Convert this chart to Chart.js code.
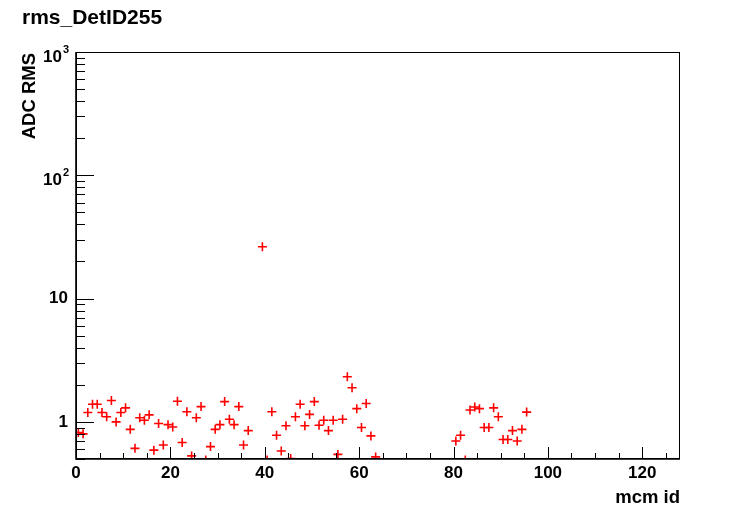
<!DOCTYPE html>
<html>
<head>
<meta charset="utf-8">
<script src="https://cdn.jsdelivr.net/npm/chart.js@4.4.1/dist/chart.umd.min.js"></script>
<style>
  html, body { margin: 0; padding: 0; background: #fff; }
  #wrap { width: 756px; height: 511px; position: relative; }
</style>
</head>
<body>
<div id="wrap"><canvas id="c" width="756" height="511"></canvas></div>
<script>
// mcm ids (bins) and the rms
const mcmIds = [
  0, 1, 2, 3, 4, 5, 6, 7, 8, 9, 10, 11, 12, 13, 14, 15, 16, 17, 18, 19,
  20, 21, 22, 23, 24, 25, 26, 27, 28, 29, 30, 31, 32, 33, 34, 35, 36,
  39, 40, 41, 42, 43, 44, 45, 46, 47, 48, 49, 50, 51, 52, 53, 54, 55,
  56, 57, 58, 59, 60, 61, 62, 63,
  80, 81, 82, 83, 84, 85, 86, 87, 88, 89, 90, 91, 92, 93, 94, 95
];
const rmsValues = [
  0.82, 0.80, 1.19, 1.39, 1.39, 1.19, 1.10, 1.49, 1.00, 1.19, 1.30, 0.87, 0.61, 1.08, 1.03, 1.14, 0.59, 0.97, 0.65, 0.95,
  0.91, 1.47, 0.68, 1.21, 0.53, 1.08, 1.33, 0.49, 0.63, 0.87, 0.95, 1.46, 1.05, 0.95, 1.33, 0.65, 0.85,
  26.3, 0.49, 1.21, 0.78, 0.58, 0.93, 0.505, 1.10, 1.39, 0.93, 1.15, 1.46, 0.94, 1.03, 0.85, 1.03, 0.545,
  1.05, 2.32, 1.89, 1.28, 0.90, 1.41, 0.77, 0.52,
  0.70, 0.78, 0.49, 1.25, 1.32, 1.28, 0.90, 0.90, 1.30, 1.10, 0.72, 0.72, 0.85, 0.70, 0.87, 1.20
];

const xTickValues = [0, 20, 40, 60, 80, 100, 120];
const yTickValues = [1, 10, 100, 1000];
const yTickLabels = ['1', '10', '10^2', '10^3'];

const titleText = 'rms_DetID255';
const xTitle = 'mcm id';
const yTitle = 'ADC RMS';

const FONT = '"Liberation Sans", Arial, Helvetica, sans-serif';

// ROOT-like frame, inside ticks and labels
const rootAxes = {
  id: 'rootAxes',
  afterDatasetsDraw(chart) {
    const ctx = chart.ctx;
    const a = chart.chartArea;
    const xs = chart.scales.x, ys = chart.scales.y;
    ctx.save();
    ctx.strokeStyle = '#000';
    ctx.fillStyle = '#000';

    // frame
    ctx.lineWidth = 1;
    ctx.strokeRect(a.left + 0.5, a.top + 0.5, a.right - a.left - 1, a.bottom - a.top - 1);
    ctx.lineWidth = 1.6;
    ctx.beginPath();
    ctx.moveTo(a.left, a.top); ctx.lineTo(a.left, a.bottom); ctx.lineTo(a.right, a.bottom);
    ctx.stroke();

    // x ticks: major every 20, minor every 5
    ctx.lineWidth = 1;
    ctx.beginPath();
    for (let v = 0; v <= xs.max; v += 5) {
      const px = Math.round(xs.getPixelForValue(v)) + 0.5;
      const len = (v % 20 === 0) ? 12 : 6;
      ctx.moveTo(px, a.bottom); ctx.lineTo(px, a.bottom - len);
    }
    // y ticks: log, major per decade, minor 2..9
    for (let d = 0.1; d <= 1000; d *= 10) {
      for (let m = 1; m <= 9; m++) {
        const v = d * m;
        if (v < ys.min - 1e-9 || v > ys.max + 1e-9) continue;
        const py = Math.round(ys.getPixelForValue(v)) + 0.5;
        const len = (m === 1) ? 18 : 9;
        ctx.moveTo(a.left, py); ctx.lineTo(a.left + len, py);
      }
    }
    ctx.stroke();

    // x tick labels
    ctx.font = 'bold 17px ' + FONT;
    ctx.textAlign = 'center';
    ctx.textBaseline = 'middle';
    xTickValues.forEach(v => {
      ctx.fillText(String(v), xs.getPixelForValue(v), 473);
    });

    // y tick labels (with superscripts)
    yTickValues.forEach((v, i) => {
      const py = ys.getPixelForValue(v);
      const parts = yTickLabels[i].split('^');
      const right = 68;
      if (parts.length === 1) {
        ctx.font = 'bold 17px ' + FONT;
        ctx.textAlign = 'right';
        ctx.textBaseline = 'middle';
        ctx.fillText(parts[0], right, py);
      } else {
        ctx.font = 'bold 11px ' + FONT;
        const ew = ctx.measureText(parts[1]).width;
        ctx.textAlign = 'left';
        ctx.textBaseline = 'middle';
        ctx.fillText(parts[1], right - ew + 1, py - 2);
        ctx.font = 'bold 17px ' + FONT;
        ctx.textAlign = 'right';
        ctx.fillText(parts[0], right - ew, py + 5);
      }
    });

    // axis titles
    ctx.font = 'bold 18.5px ' + FONT;
    ctx.textAlign = 'right';
    ctx.textBaseline = 'alphabetic';
    ctx.fillText(xTitle, a.right, 503);

    ctx.save();
    ctx.translate(35, a.top + 1);
    ctx.rotate(-Math.PI / 2);
    ctx.textAlign = 'right';
    ctx.fillText(yTitle, 0, 0);
    ctx.restore();

    // title
    ctx.font = 'bold 21px ' + FONT;
    ctx.textAlign = 'left';
    ctx.fillText(titleText, 22, 24);
    ctx.restore();
  }
};

new Chart(document.getElementById('c'), {
  type: 'scatter',
  data: {
    datasets: [{
      label: 'rms',
      data: mcmIds.map((id, i) => ({ x: id + 0.5, y: rmsValues[i] })),
      pointStyle: 'cross',
      pointRadius: 4.5,
      pointHoverRadius: 4.5,
      borderColor: '#ff0000',
      backgroundColor: '#ff0000',
      borderWidth: 1.6,
      clip: 0
    }]
  },
  options: {
    responsive: false,
    animation: false,
    events: [],
    layout: { padding: { left: 76, right: 76, top: 52, bottom: 52 } },
    scales: {
      x: { type: 'linear', min: 0, max: 128, display: false },
      y: { type: 'logarithmic', min: 0.5, max: 1000, display: false }
    },
    plugins: {
      legend: { display: false },
      tooltip: { enabled: false },
      title: { display: false }
    }
  },
  plugins: [rootAxes]
});
</script>
</body>
</html>
